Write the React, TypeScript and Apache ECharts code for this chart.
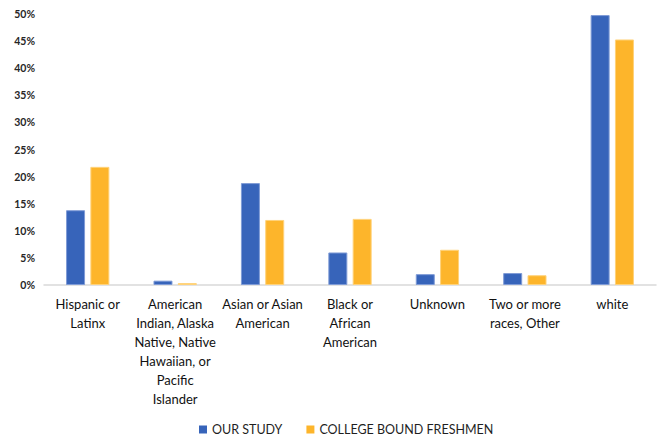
import React, { useEffect, useRef } from "react";
import * as echarts from "echarts";

const categories = [
  "Hispanic or\nLatinx",
  "American\nIndian, Alaska\nNative, Native\nHawaiian, or\nPacific\nIslander",
  "Asian or Asian\nAmerican",
  "Black or\nAfrican\nAmerican",
  "Unknown",
  "Two or more\nraces, Other",
  "white",
];
const ourStudy = [13.8, 0.8, 18.8, 6.0, 2.0, 2.2, 49.8];
const collegeBound = [21.8, 0.35, 12.0, 12.2, 6.5, 1.8, 45.3];
const seriesNames = ["OUR STUDY", "COLLEGE BOUND FRESHMEN"];

const FONT = "Lato, 'Open Sans', sans-serif";

export default function App() {
  const ref = useRef<HTMLDivElement>(null);
  useEffect(() => {
    document.body.style.margin = "0";
    const chart = echarts.init(ref.current!, null, { renderer: "svg" });
    chart.setOption({
      animation: false,
      textStyle: { fontFamily: FONT },
      grid: { left: 44, right: 6, top: 14, bottom: 152, containLabel: false },
      legend: {
        data: seriesNames,
        left: 194,
        top: 418,
        icon: "rect",
        itemWidth: 8,
        itemHeight: 8,
        itemGap: 24,
        itemStyle: { borderWidth: 0 },
        textStyle: { fontSize: 12.5, color: "#1f1f1f", fontFamily: FONT },
      },
      xAxis: {
        type: "category",
        data: categories,
        axisLine: { lineStyle: { color: "#d9d9d9", width: 1.5 } },
        axisTick: { show: false },
        axisLabel: {
          interval: 0,
          color: "#111111",
          fontSize: 13,
          lineHeight: 19,
          margin: 9,
          fontFamily: FONT,
        },
      },
      yAxis: {
        type: "value",
        min: 0,
        max: 50,
        interval: 5,
        axisLine: { show: false },
        axisTick: { show: false },
        splitLine: { show: false },
        axisLabel: {
          formatter: "{value}%",
          color: "#262626",
          fontSize: 10.5,
          fontWeight: "bold",
          margin: 9,
          fontFamily: FONT,
        },
      },
      series: [
        {
          name: seriesNames[0],
          type: "bar",
          data: ourStudy,
          barWidth: 19,
          barGap: "28%",
          itemStyle: { color: "#3764BA", borderColor: "#7f9bd6", borderWidth: 1 },
        },
        {
          name: seriesNames[1],
          type: "bar",
          data: collegeBound,
          barWidth: 19,
          itemStyle: { color: "#FDB52B", borderColor: "#ffd27a", borderWidth: 1 },
        },
      ],
    });
    return () => chart.dispose();
  }, []);
  return <div ref={ref} style={{ width: 662, height: 437 }} />;
}
